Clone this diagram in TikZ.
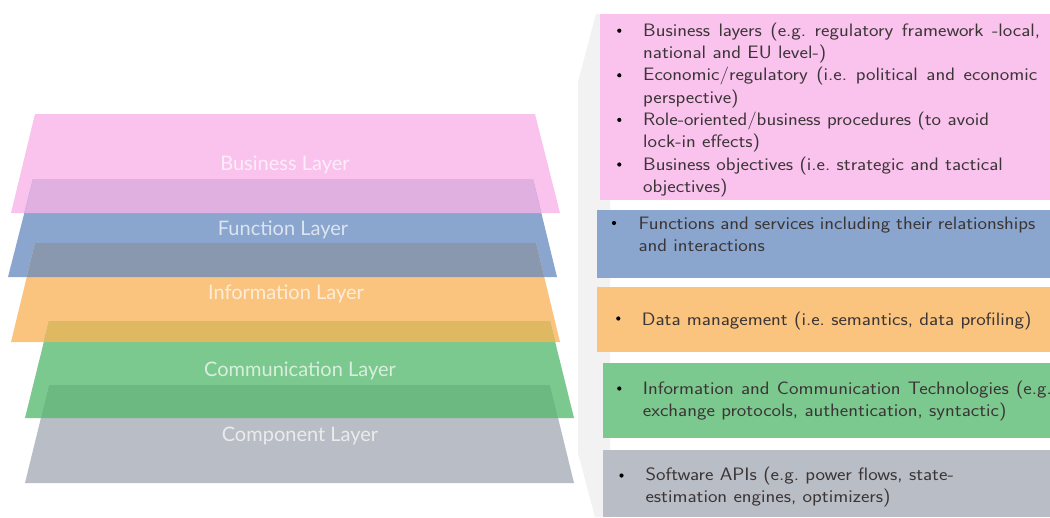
\documentclass[tikz,border=0pt]{standalone}
\usepackage{fontspec}
\newfontfamily\latofont{Lato}
\definecolor{pinkc}{HTML}{FAC3EE}
\definecolor{bluec}{HTML}{8AA6CE}
\definecolor{orangec}{HTML}{FAC47F}
\definecolor{greenc}{HTML}{7CC98F}
\definecolor{greyc}{HTML}{B9BDC5}
\definecolor{pinkblue}{HTML}{DFB0E0}
\definecolor{blueorange}{HTML}{8998AE}
\definecolor{orangegreen}{HTML}{DFB862}
\definecolor{greengrey}{HTML}{6CBA82}
\definecolor{bandc}{HTML}{F2F2F2}
\definecolor{txtc}{HTML}{3B3536}
\frenchspacing
% justified line of given width (pt), with horizontal stretch 1.12
\newcommand{\tline}[2]{\scalebox{1.12}[1]{\makebox[\dimexpr #1pt*100/112\relax][s]{#2}}}
% natural line with horizontal stretch 1.12
\newcommand{\nline}[1]{\scalebox{1.12}[1]{#1}}
\begin{document}
\begin{tikzpicture}[x=1pt,y=-1pt,
  layerlabel/.style={anchor=base,inner sep=0pt,text=white,text opacity=0.7,font=\latofont\fontsize{20}{24}\selectfont},
  txt/.style={anchor=base west,inner sep=0pt,text=txtc,font=\sffamily\fontsize{18}{21}\selectfont},
  bul/.style={circle,fill=black,inner sep=0pt,minimum size=4.2pt}]
\useasboundingbox[fill=white] (0,0) rectangle (1050,517);
% trapezoid corners
\coordinate (bTL) at (35,114);  \coordinate (bTR) at (535,114);  \coordinate (bBR) at (560,213); \coordinate (bBL) at (11,213);
\coordinate (fTL) at (33,179);  \coordinate (fTR) at (533,179);  \coordinate (fBR) at (557,277); \coordinate (fBL) at (8,277);
\coordinate (iTL) at (35,243);  \coordinate (iTR) at (536,243);  \coordinate (iBR) at (560,342); \coordinate (iBL) at (11,342);
\coordinate (cTL) at (49,321);  \coordinate (cTR) at (550,321);  \coordinate (cBR) at (574,418); \coordinate (cBL) at (25,418);
\coordinate (pTL) at (49,385);  \coordinate (pTR) at (550,385);  \coordinate (pBR) at (574,483); \coordinate (pBL) at (25,483);
% layers
\fill[pinkc] (bTL) -- (bTR) -- (bBR) -- (bBL) -- cycle;
\fill[bluec] (fTL) -- (fTR) -- (fBR) -- (fBL) -- cycle;
\begin{scope}
  \clip (bTL) -- (bTR) -- (bBR) -- (bBL) -- cycle;
  \fill[pinkblue] (fTL) -- (fTR) -- (fBR) -- (fBL) -- cycle;
\end{scope}
\fill[orangec] (iTL) -- (iTR) -- (iBR) -- (iBL) -- cycle;
\begin{scope}
  \clip (fTL) -- (fTR) -- (fBR) -- (fBL) -- cycle;
  \fill[blueorange] (iTL) -- (iTR) -- (iBR) -- (iBL) -- cycle;
\end{scope}
\fill[greenc] (cTL) -- (cTR) -- (cBR) -- (cBL) -- cycle;
\begin{scope}
  \clip (iTL) -- (iTR) -- (iBR) -- (iBL) -- cycle;
  \fill[orangegreen] (cTL) -- (cTR) -- (cBR) -- (cBL) -- cycle;
\end{scope}
\fill[greyc] (pTL) -- (pTR) -- (pBR) -- (pBL) -- cycle;
\begin{scope}
  \clip (cTL) -- (cTR) -- (cBR) -- (cBL) -- cycle;
  \fill[greengrey] (pTL) -- (pTR) -- (pBR) -- (pBL) -- cycle;
\end{scope}
% layer labels
\node[layerlabel] (lb) at (285,170.7) {Business Layer};
\node[layerlabel] (lf) at (283,235) {Function Layer};
\node[layerlabel] (li) at (286,299.3) {Information Layer};
\node[layerlabel] (lc) at (300,376.7) {Communication Layer};
\node[layerlabel] (lp) at (300,441.7) {Component Layer};
% grey band
\fill[bandc] (596,14) -- (578,82) -- (578,453) -- (595,517) -- (610,517) -- (610,14) -- cycle;
% right boxes
\fill[pinkc]   (600,14)  rectangle (1050,200);
\fill[bluec]   (597,210) rectangle (1050,278);
\fill[orangec] (597,287) rectangle (1050,352);
\fill[greenc]  (603,363) rectangle (1050,438);
\fill[greyc]   (603,450) rectangle (1050,517);
% pink text
\node[bul] (pb1) at (619.3,30.7) {};
\node[bul] (pb2) at (619.3,75.3) {};
\node[bul] (pb3) at (619.3,119.9) {};
\node[bul] (pb4) at (619.3,164.5) {};
\node[txt] (pt1) at (643,36.3) {\tline{397}{Business layers (e.g. regulatory framework -local,}};
\node[txt] (pt2) at (643,58.6) {\nline{national and EU level-)}};
\node[txt] (pt3) at (643,80.9) {\tline{394}{Economic/regulatory (i.e. political and economic}};
\node[txt] (pt4) at (643,103.2) {\nline{perspective)}};
\node[txt] (pt5) at (643,125.5) {\nline{Role-oriented/business procedures (to avoid}};
\node[txt] (pt6) at (643,147.8) {\nline{lock-in effects)}};
\node[txt] (pt7) at (643,170.1) {\nline{Business objectives (i.e. strategic and tactical}};
\node[txt] (pt8) at (643,192.4) {\nline{objectives)}};
% blue text
\node[bul] (bb1) at (614,223) {};
\node[txt] (bt1) at (638.3,229.3) {\tline{397}{Functions and services including their relationships}};
\node[txt] (bt2) at (638.3,251.7) {\nline{and interactions}};
% orange text
\node[bul] (ob1) at (618.3,318.5) {};
\node[txt] (ot1) at (641.7,325) {\nline{Data management (i.e. semantics, data profiling)}};
% green text
\node[bul] (gb1) at (619.3,388.5) {};
\node[txt] (gt1) at (642.7,394.3) {\tline{409}{Information and Communication Technologies (e.g.}};
\node[txt] (gt2) at (642.7,416.7) {\nline{exchange protocols, authentication, syntactic)}};
% grey text
\node[bul] (yb1) at (621.5,475.5) {};
\node[txt] (yt1) at (645.3,480.7) {\nline{Software APIs (e.g. power flows, state-}};
\node[txt] (yt2) at (645.3,502.7) {\nline{estimation engines, optimizers)}};
\end{tikzpicture}
\end{document}
